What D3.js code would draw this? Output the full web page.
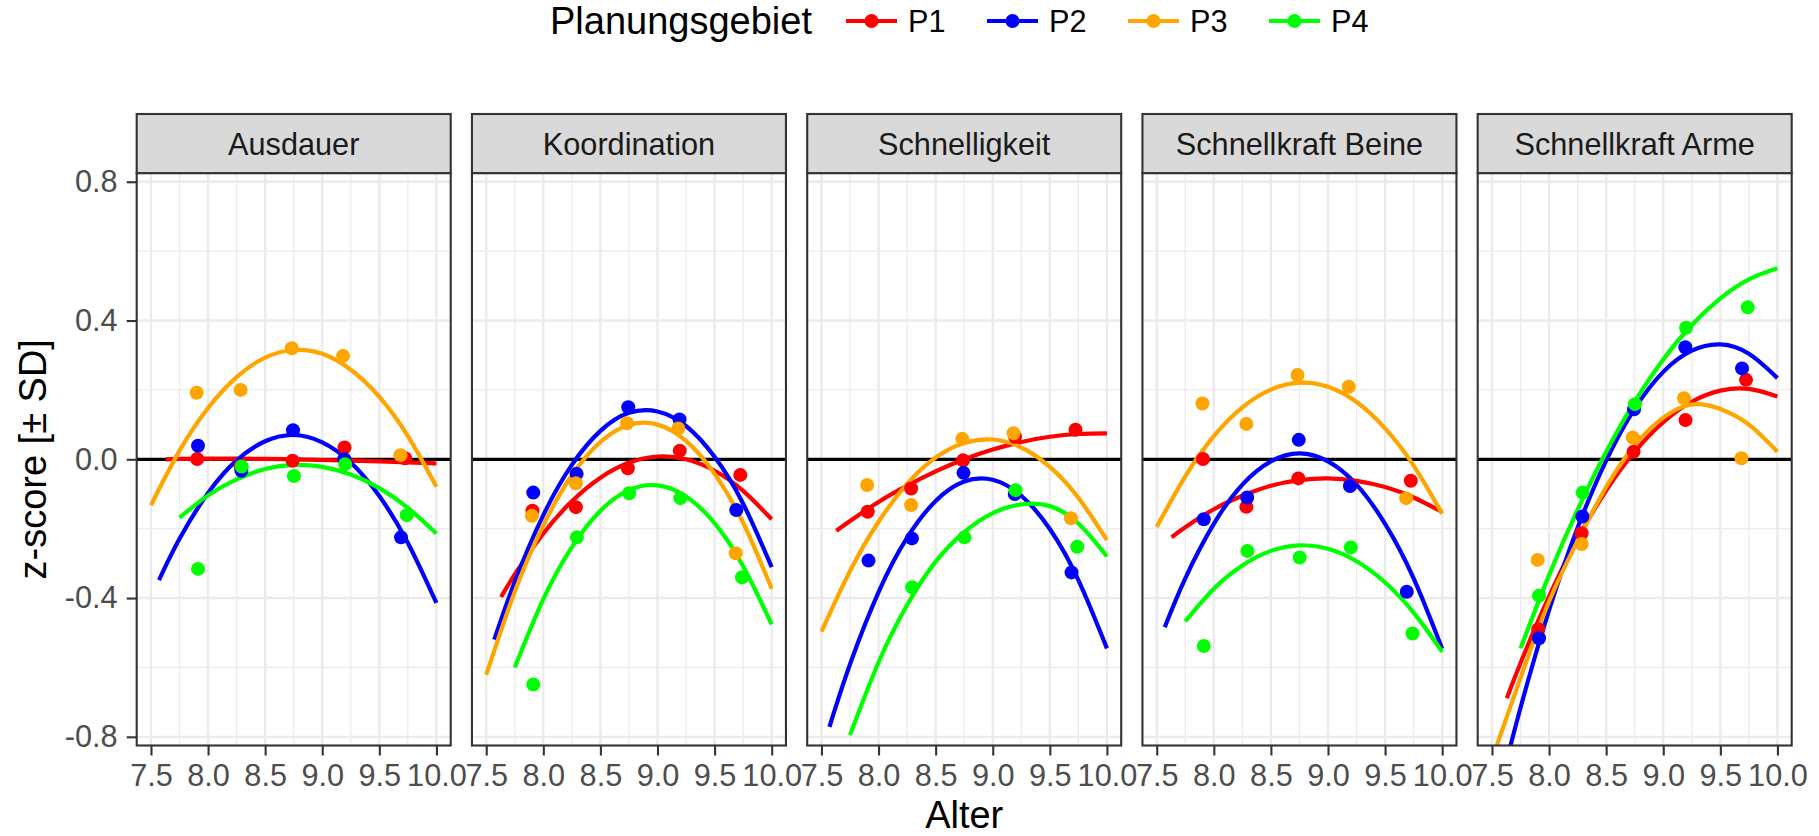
<!DOCTYPE html>
<html>
<head>
<meta charset="utf-8">
<script src="https://cdn.jsdelivr.net/npm/d3@7"></script>
<style>
  html, body { margin: 0; padding: 0; background: #ffffff; }
  svg { display: block; font-family: "Liberation Sans", Arial, Helvetica, sans-serif; }
</style>
</head>
<body>
<svg id="chart" width="1819" height="836"></svg>
<script>
// ---- data ------------------------------------------------------------
const groups = ["P1", "P2", "P3", "P4"];
const groupColors = ["#FF0000", "#0000FF", "#FFA500", "#00FF00"];
const facets = ["Ausdauer", "Koordination", "Schnelligkeit", "Schnellkraft Beine", "Schnellkraft Arme"];

const ageTicks = [7.5, 8.0, 8.5, 9.0, 9.5, 10.0];
const ageMinor = [7.75, 8.25, 8.75, 9.25, 9.75];
const zTicks = [-0.8, -0.4, 0.0, 0.4, 0.8];
const zMinor = [-0.6, -0.2, 0.2, 0.6];

// mean age of each age class, per Planungsgebiet
const meanAge = {
  P1: [7.905, 8.285, 8.740, 9.195, 9.725],
  P2: [7.912, 8.292, 8.744, 9.193, 9.690],
  P3: [7.900, 8.285, 8.733, 9.182, 9.685],
  P4: [7.912, 8.294, 8.752, 9.200, 9.740]
};

// mean z-scores per age class
const zAusdauer = {
  P1: [0.001, -0.020, -0.004, 0.034, 0.003],
  P2: [0.039, -0.033, 0.084, 0.000, -0.225],
  P3: [0.192, 0.200, 0.320, 0.298, 0.012],
  P4: [-0.316, -0.021, -0.048, -0.014, -0.161]
};
const zKoordination = {
  P1: [-0.148, -0.138, -0.026, 0.025, -0.045],
  P2: [-0.096, -0.042, 0.150, 0.115, -0.146],
  P3: [-0.163, -0.069, 0.104, 0.089, -0.271],
  P4: [-0.649, -0.225, -0.098, -0.112, -0.340]
};
const zSchnelligkeit = {
  P1: [-0.151, -0.084, -0.003, 0.065, 0.085],
  P2: [-0.292, -0.228, -0.039, -0.100, -0.326],
  P3: [-0.074, -0.132, 0.059, 0.075, -0.170],
  P4: [null, -0.369, -0.225, -0.089, -0.252]
};
const zBeine = {
  P1: [0.001, -0.137, -0.055, -0.075, -0.062],
  P2: [-0.173, -0.110, 0.056, -0.077, -0.382],
  P3: [0.161, 0.102, 0.243, 0.209, -0.112],
  P4: [-0.538, -0.264, -0.283, -0.254, -0.502]
};
const zArme = {
  P1: [-0.490, -0.213, 0.022, 0.113, 0.229],
  P2: [-0.516, -0.165, 0.144, 0.323, 0.262],
  P3: [-0.290, -0.244, 0.063, 0.176, 0.003],
  P4: [-0.393, -0.096, 0.159, 0.379, 0.438]
};

// ages at which the fitted trend curves are tabulated
const fitAge = {
  P1: [7.63, 7.75, 8.0, 8.25, 8.5, 8.75, 9.0, 9.25, 9.5, 9.75, 10.0],
  P2: [7.57, 7.75, 8.0, 8.25, 8.5, 8.75, 9.0, 9.25, 9.5, 9.75, 10.0],
  P3: [7.5, 7.75, 8.0, 8.25, 8.5, 8.75, 9.0, 9.25, 9.5, 9.75, 10.0],
  P4: [7.75, 8.0, 8.25, 8.5, 8.75, 9.0, 9.25, 9.5, 9.75, 10.0]
};

// fitted trend (z-score) at fitAge
const fitAusdauer = {
  P1: [0.000, 0.001, 0.002, 0.002, 0.001, 0.000, -0.002, -0.004, -0.006, -0.009, -0.012],
  P2: [-0.348, -0.229, -0.097, -0.003, 0.052, 0.070, 0.049, -0.009, -0.106, -0.241, -0.414],
  P3: [-0.132, 0.025, 0.148, 0.237, 0.293, 0.315, 0.304, 0.258, 0.180, 0.067, -0.079],
  P4: [-0.168, -0.104, -0.058, -0.028, -0.016, -0.022, -0.044, -0.083, -0.140, -0.214]
};
const fitKoordination = {
  P1: [-0.397, -0.332, -0.214, -0.121, -0.053, -0.010, 0.008, 0.000, -0.033, -0.091, -0.173],
  P2: [-0.520, -0.353, -0.161, -0.016, 0.082, 0.134, 0.138, 0.096, 0.007, -0.128, -0.311],
  P3: [-0.621, -0.382, -0.190, -0.046, 0.050, 0.099, 0.100, 0.053, -0.042, -0.183, -0.373],
  P4: [-0.600, -0.403, -0.253, -0.148, -0.089, -0.075, -0.107, -0.184, -0.308, -0.476]
};
const fitSchnelligkeit = {
  P1: [-0.206, -0.178, -0.123, -0.076, -0.035, 0.000, 0.028, 0.050, 0.065, 0.073, 0.075],
  P2: [-0.771, -0.591, -0.383, -0.226, -0.120, -0.064, -0.059, -0.105, -0.201, -0.348, -0.545],
  P3: [-0.497, -0.322, -0.180, -0.071, 0.005, 0.047, 0.057, 0.034, -0.022, -0.111, -0.233],
  P4: [-0.795, -0.585, -0.420, -0.295, -0.210, -0.155, -0.130, -0.135, -0.185, -0.280]
};
const fitBeine = {
  P1: [-0.225, -0.196, -0.144, -0.105, -0.076, -0.060, -0.055, -0.062, -0.080, -0.110, -0.152],
  P2: [-0.484, -0.343, -0.186, -0.073, -0.006, 0.017, -0.006, -0.073, -0.186, -0.343, -0.546],
  P3: [-0.195, -0.049, 0.067, 0.150, 0.201, 0.221, 0.209, 0.165, 0.089, -0.018, -0.157],
  P4: [-0.467, -0.373, -0.306, -0.264, -0.248, -0.258, -0.294, -0.355, -0.442, -0.555]
};
const fitArme = {
  P1: [-0.689, -0.587, -0.395, -0.229, -0.090, 0.022, 0.107, 0.166, 0.198, 0.203, 0.181],
  P2: [-0.946, -0.716, -0.435, -0.197, -0.004, 0.146, 0.252, 0.313, 0.331, 0.304, 0.234],
  P3: [-0.864, -0.630, -0.410, -0.235, -0.080, 0.040, 0.120, 0.158, 0.145, 0.100, 0.022],
  P4: [-0.545, -0.334, -0.145, 0.022, 0.166, 0.288, 0.387, 0.464, 0.519, 0.551]
};

const pointTables = [zAusdauer, zKoordination, zSchnelligkeit, zBeine, zArme];
const fitTables = [fitAusdauer, fitKoordination, fitSchnelligkeit, fitBeine, fitArme];

// ---- layout ----------------------------------------------------------
const W = 1819, H = 836;
const panelLeft0 = 136.7, panelStep = 335.25, panelW = 314;
const panelTop = 173.1, panelBottom = 745.5;
const stripTop = 114;
const tickFont = 30.7, titleFont = 38;

const svg = d3.select("#chart");
svg.append("rect").attr("width", W).attr("height", H).attr("fill", "#ffffff");

const color = d3.scaleOrdinal().domain(groups).range(groupColors);
const y = d3.scaleLinear().domain([-0.825, 0.825]).range([panelBottom, panelTop]);

facets.forEach((name, i) => {
  const left = panelLeft0 + i * panelStep;
  const x = d3.scaleLinear().domain([7.375, 10.125]).range([left, left + panelW]);
  const g = svg.append("g").attr("class", "facet");

  // panel background + grid
  g.append("rect").attr("x", left).attr("y", panelTop)
    .attr("width", panelW).attr("height", panelBottom - panelTop).attr("fill", "#ffffff");

  g.selectAll("line.xminor").data(ageMinor).join("line")
    .attr("x1", d => x(d)).attr("x2", d => x(d))
    .attr("y1", panelTop).attr("y2", panelBottom)
    .attr("stroke", "#EBEBEB").attr("stroke-width", 1.2);
  g.selectAll("line.yminor").data(zMinor).join("line")
    .attr("x1", left).attr("x2", left + panelW)
    .attr("y1", d => y(d)).attr("y2", d => y(d))
    .attr("stroke", "#EBEBEB").attr("stroke-width", 1.2);
  g.append("g").selectAll("line").data(ageTicks).join("line")
    .attr("x1", d => x(d)).attr("x2", d => x(d))
    .attr("y1", panelTop).attr("y2", panelBottom)
    .attr("stroke", "#EBEBEB").attr("stroke-width", 2.4);
  g.append("g").selectAll("line").data(zTicks).join("line")
    .attr("x1", left).attr("x2", left + panelW)
    .attr("y1", d => y(d)).attr("y2", d => y(d))
    .attr("stroke", "#EBEBEB").attr("stroke-width", 2.4);

  // clipping for the plotted marks
  const clipId = "clip" + i;
  svg.append("clipPath").attr("id", clipId)
    .append("rect").attr("x", left).attr("y", panelTop)
    .attr("width", panelW).attr("height", panelBottom - panelTop);
  const plot = g.append("g").attr("clip-path", `url(#${clipId})`);

  // reference line at z = 0
  plot.append("line")
    .attr("x1", left).attr("x2", left + panelW)
    .attr("y1", y(0)).attr("y2", y(0))
    .attr("stroke", "#000000").attr("stroke-width", 3.2);

  // fitted trend curves
  const line = d3.line()
    .x(d => x(d[0])).y(d => y(d[1]))
    .curve(d3.curveNatural);
  groups.forEach(grp => {
    const pts = d3.zip(fitAge[grp], fitTables[i][grp]);
    plot.append("path").datum(pts)
      .attr("d", line)
      .attr("fill", "none")
      .attr("stroke", color(grp))
      .attr("stroke-width", 4.2);
  });

  // group means
  groups.forEach(grp => {
    const pts = d3.zip(meanAge[grp], pointTables[i][grp]).filter(d => d[1] !== null);
    plot.append("g").selectAll("circle").data(pts).join("circle")
      .attr("cx", d => x(d[0])).attr("cy", d => y(d[1]))
      .attr("r", 7)
      .attr("fill", color(grp));
  });

  // panel border
  g.append("rect").attr("x", left).attr("y", panelTop)
    .attr("width", panelW).attr("height", panelBottom - panelTop)
    .attr("fill", "none").attr("stroke", "#333333").attr("stroke-width", 2.1);

  // strip
  g.append("rect").attr("x", left).attr("y", stripTop)
    .attr("width", panelW).attr("height", panelTop - stripTop)
    .attr("fill", "#D9D9D9").attr("stroke", "#333333").attr("stroke-width", 2.1);
  g.append("text")
    .attr("x", left + panelW / 2).attr("y", (stripTop + panelTop) / 2 + 11)
    .attr("text-anchor", "middle")
    .attr("font-size", tickFont).attr("fill", "#1A1A1A")
    .text(name);

  // x axis
  const xAxis = d3.axisBottom(x).tickValues(ageTicks)
    .tickFormat(d3.format(".1f")).tickSizeInner(10).tickSizeOuter(0).tickPadding(9);
  const ax = g.append("g").attr("transform", `translate(0,${panelBottom})`).call(xAxis);
  ax.select(".domain").remove();
  ax.selectAll(".tick line").attr("stroke", "#333333").attr("stroke-width", 2.1);
  ax.selectAll(".tick text").attr("font-size", tickFont).attr("fill", "#4D4D4D")
    .attr("font-family", "Liberation Sans, Arial, sans-serif");

  // y axis on the first panel only
  if (i === 0) {
    const yAxis = d3.axisLeft(y).tickValues(zTicks)
      .tickFormat(d3.format(".1f")).tickSizeInner(10).tickSizeOuter(0).tickPadding(9);
    const ay = g.append("g").attr("transform", `translate(${left},0)`).call(yAxis);
    ay.select(".domain").remove();
    ay.selectAll(".tick line").attr("stroke", "#333333").attr("stroke-width", 2.1);
    ay.selectAll(".tick text").attr("font-size", tickFont).attr("fill", "#4D4D4D")
      .attr("font-family", "Liberation Sans, Arial, sans-serif")
      .text(d => d3.format(".1f")(d).replace("\u2212", "-"));
  }
});

// axis titles
const panelsMid = panelLeft0 + (4 * panelStep + panelW) / 2;
svg.append("text").attr("x", panelsMid).attr("y", 828)
  .attr("text-anchor", "middle").attr("font-size", titleFont).attr("fill", "#000000")
  .text("Alter");
svg.append("text")
  .attr("transform", `translate(46,${y(0)}) rotate(-90)`)
  .attr("text-anchor", "middle").attr("font-size", titleFont).attr("fill", "#000000")
  .text("z-score [\u00B1 SD]");

// legend
const legend = svg.append("g").attr("class", "legend");
legend.append("text").attr("x", 550).attr("y", 34)
  .attr("font-size", titleFont).attr("fill", "#000000").text("Planungsgebiet");
const keyX0 = 846, keyStep = 141, keyY = 21;
groups.forEach((grp, k) => {
  const kx = keyX0 + k * keyStep;
  legend.append("line").attr("x1", kx).attr("x2", kx + 51)
    .attr("y1", keyY).attr("y2", keyY)
    .attr("stroke", color(grp)).attr("stroke-width", 4.2);
  legend.append("circle").attr("cx", kx + 25.5).attr("cy", keyY).attr("r", 7)
    .attr("fill", color(grp));
  legend.append("text").attr("x", kx + 62).attr("y", keyY + 11)
    .attr("font-size", tickFont).attr("fill", "#000000").text(grp);
});
</script>
</body>
</html>
